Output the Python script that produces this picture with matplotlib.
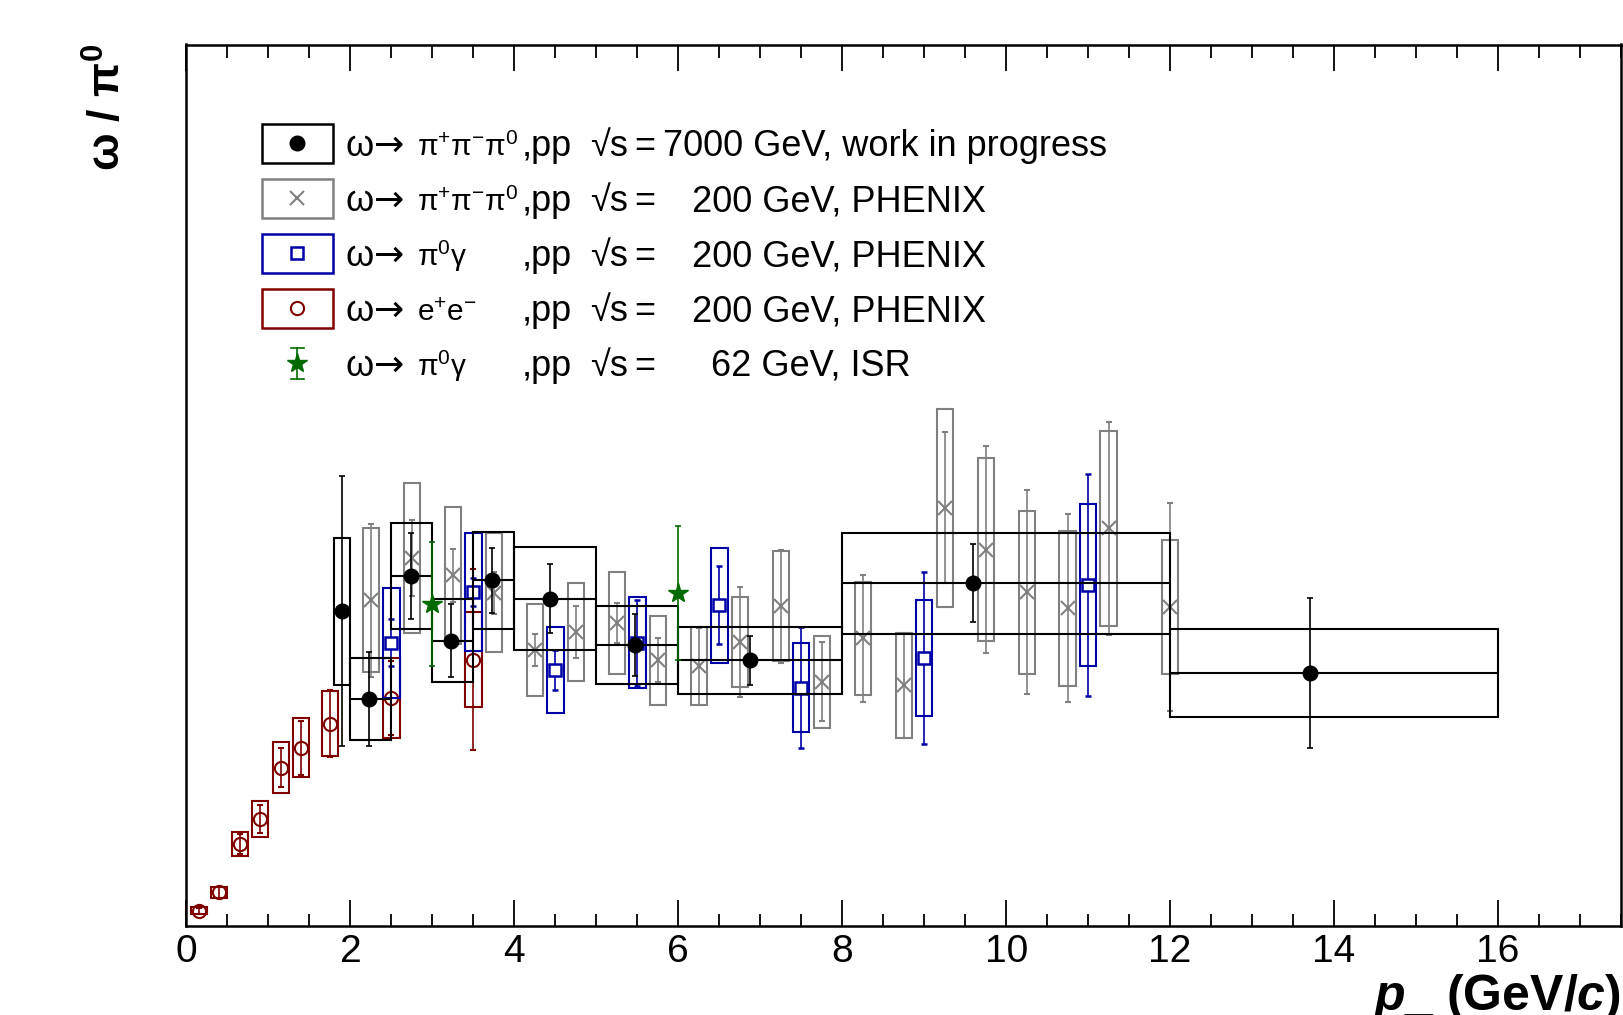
import numpy as np
import matplotlib
matplotlib.use("Agg")
import matplotlib.pyplot as plt
from matplotlib.patches import Rectangle
from matplotlib.lines import Line2D

plt.rcParams["font.family"] = ["Liberation Sans", "DejaVu Sans"]
plt.rcParams["mathtext.fontset"] = "custom"
plt.rcParams["mathtext.rm"] = "Liberation Sans"
plt.rcParams["mathtext.it"] = "Liberation Sans:italic"
plt.rcParams["mathtext.bf"] = "Liberation Sans:bold"
plt.rcParams["mathtext.bfit"] = "Liberation Sans:italic:bold"
plt.rcParams["mathtext.default"] = "regular"

# ALICE 7 TeV (bins with x-errors)
alice_lo = [1.8, 2.0, 2.5, 3.0, 3.5, 4.0, 5.0, 6.0, 8.0, 12.0]
alice_hi = [2.0, 2.5, 3.0, 3.5, 4.0, 5.0, 6.0, 8.0, 12.0, 16.0]
alice_x = [1.90, 2.23, 2.74, 3.23, 3.73, 4.43, 5.47, 6.87, 9.59, 13.71]
alice_y = [0.428, 0.309, 0.476, 0.388, 0.470, 0.445, 0.382, 0.361, 0.466, 0.344]
alice_stat = [0.184, 0.064, 0.058, 0.050, 0.044, 0.047, 0.042, 0.033, 0.053, 0.102]
alice_sys = [0.100, 0.056, 0.072, 0.057, 0.066, 0.070, 0.053, 0.046, 0.069, 0.060]

# PHENIX pi+pi-pi0
phx3_x = [2.25, 2.75, 3.25, 3.75, 4.25, 4.75, 5.25, 5.75, 6.25, 6.75,
          7.25, 7.75, 8.25, 8.75, 9.25, 9.75, 10.25, 10.75, 11.25, 12.0]
phx3_y = [0.443, 0.501, 0.477, 0.453, 0.375, 0.400, 0.412, 0.361, 0.353, 0.386,
          0.435, 0.332, 0.391, 0.327, 0.569, 0.512, 0.454, 0.432, 0.541, 0.434]
phx3_stat = [0.104, 0.052, 0.036, 0.029, 0.022, 0.035, 0.027, 0.030, 0.052, 0.075,
             0.077, 0.054, 0.087, 0.072, 0.103, 0.141, 0.139, 0.128, 0.145, 0.142]
phx3_sys = [0.098, 0.102, 0.093, 0.081, 0.063, 0.067, 0.069, 0.061, 0.053, 0.061,
            0.075, 0.063, 0.077, 0.071, 0.135, 0.125, 0.111, 0.106, 0.133, 0.091]

# PHENIX pi0 gamma
phxg_x = [2.5, 3.5, 4.5, 5.5, 6.5, 7.5, 9.0, 11.0]
phxg_y = [0.385, 0.454, 0.348, 0.385, 0.436, 0.324, 0.364, 0.464]
phxg_stat = [0.032, 0.019, 0.027, 0.059, 0.053, 0.082, 0.117, 0.151]
phxg_sys = [0.075, 0.080, 0.058, 0.062, 0.078, 0.061, 0.079, 0.110]

# PHENIX e+e-
phxe_x = [0.15, 0.4, 0.65, 0.9, 1.15, 1.4, 1.75, 2.5, 3.5]
phxe_y = [0.020, 0.045, 0.111, 0.145, 0.215, 0.242, 0.275, 0.310, 0.362]
phxe_stat = [0.004, 0.007, 0.013, 0.019, 0.027, 0.037, 0.046, 0.050, 0.123]
phxe_sys = [0.005, 0.008, 0.017, 0.024, 0.035, 0.040, 0.044, 0.055, 0.065]

# ISR 62 GeV
isr_x = [3.0, 6.0]
isr_y = [0.438, 0.453]
isr_stat = [0.085, 0.091]

BLACK = "black"
GRAY = "#808080"
BLUE = "#0000a8"
RED = "#800000"
GREEN = "#006a00"

legend_rows = [
    (r"$\pi^{+}\pi^{-}\pi^{0}$", "7000 GeV, work in progress", 663),
    (r"$\pi^{+}\pi^{-}\pi^{0}$", "200 GeV, PHENIX", 692),
    (r"$\pi^{0}\gamma$", "200 GeV, PHENIX", 692),
    (r"$e^{+}e^{-}$", "200 GeV, PHENIX", 692),
    (r"$\pi^{0}\gamma$", "62 GeV, ISR", 711),
]

W, H = 1624, 1015


def fx(px):
    return px / W


def fy(py):
    return 1 - py / H


def sys_boxes(ax, x, y, sys, color, lo=None, hi=None, hw=0.1, z=2):
    for i in range(len(x)):
        x0 = lo[i] if lo is not None else x[i] - hw
        x1 = hi[i] if hi is not None else x[i] + hw
        ax.add_patch(Rectangle((x0, y[i] - sys[i]), x1 - x0, 2 * sys[i],
                               fill=False, edgecolor=color, lw=1.5, zorder=z))


fig = plt.figure(figsize=(W / 100, H / 100), dpi=100)
ax = fig.add_axes([fx(186.5), fy(925.5), fx(1621) - fx(186.5), fy(44.5) - fy(925.5)])

ebkw = dict(capsize=2.2, elinewidth=1.2, capthick=1.2, linestyle="none")

sys_boxes(ax, phx3_x, phx3_y, phx3_sys, GRAY, z=2)
ax.errorbar(phx3_x, phx3_y, yerr=phx3_stat, fmt="x", color=GRAY, ms=10.5, mew=1.5,
            zorder=3, **ebkw)

sys_boxes(ax, phxe_x, phxe_y, phxe_sys, RED, z=2)
ax.errorbar(phxe_x, phxe_y, yerr=phxe_stat, fmt="o", color=RED, mfc="none",
            ms=9.5, mew=1.5, zorder=3, **ebkw)

sys_boxes(ax, phxg_x, phxg_y, phxg_sys, BLUE, z=4)
ax.errorbar(phxg_x, phxg_y, yerr=phxg_stat, fmt="s", color=BLUE, mfc="white",
            ms=8.5, mew=1.8, zorder=5, **ebkw)

sys_boxes(ax, alice_x, alice_y, alice_sys, BLACK, lo=alice_lo, hi=alice_hi, z=6)
ax.hlines(alice_y, alice_lo, alice_hi, color=BLACK, lw=1.5, zorder=6)
ax.errorbar(alice_x, alice_y, yerr=alice_stat, fmt="o", color=BLACK, ms=10.5,
            zorder=7, **ebkw)

ax.errorbar(isr_x, isr_y, yerr=isr_stat, fmt="*", color=GREEN, ms=15,
            zorder=8, **ebkw)

ax.set_xlim(0, 17.5)
ax.set_ylim(0, 1.2)
ax.set_xticks(np.arange(0, 17, 2))
ax.set_xticks(np.arange(0, 17.6, 0.5), minor=True)
ax.tick_params(axis="x", which="both", direction="in", top=True, bottom=True,
               width=1.3, labelsize=28, pad=6)
ax.tick_params(axis="x", which="major", length=19)
ax.tick_params(axis="x", which="minor", length=9)
ax.tick_params(axis="y", which="both", left=False, right=False, labelleft=False)
for s in ax.spines.values():
    s.set_linewidth(1.8)

# legend, drawn by hand in figure pixels
row_y = [143, 198, 253, 308, 362.5]
box_colors = [BLACK, GRAY, BLUE, RED]
box_markers = [dict(marker="o", color=BLACK, ms=10.5),
               dict(marker="x", color=GRAY, ms=10.5, mew=1.5),
               dict(marker="s", color=BLUE, mfc="white", ms=8.5, mew=1.8),
               dict(marker="o", color=RED, mfc="none", ms=9.5, mew=1.5)]
fs = 26
for i, (reac, energy, ex) in enumerate(legend_rows):
    cy = row_y[i]
    if i < 4:
        fig.add_artist(Rectangle((fx(262), fy(cy + 19.5)), fx(333) - fx(262),
                                 fy(cy - 19.5) - fy(cy + 19.5), fill=False,
                                 edgecolor=box_colors[i], lw=1.8,
                                 transform=fig.transFigure))
        fig.add_artist(Line2D([fx(297.5)], [fy(cy)], linestyle="none",
                              transform=fig.transFigure, **box_markers[i]))
    else:
        fig.add_artist(Line2D([fx(297.5)] * 2, [fy(cy - 15), fy(cy + 16)],
                              color=GREEN, lw=1.2, transform=fig.transFigure))
        for yy in (cy - 15, cy + 16):
            fig.add_artist(Line2D([fx(291), fx(304)], [fy(yy)] * 2, color=GREEN,
                                  lw=1.2, transform=fig.transFigure))
        fig.add_artist(Line2D([fx(297.5)], [fy(cy)], marker="*", color=GREEN,
                              ms=15, linestyle="none", transform=fig.transFigure))
    base = fy(cy + 13)
    fig.text(fx(346), base, "ω", fontsize=fs, va="baseline", ha="left")
    fig.text(fx(374), base, "→", fontsize=fs, va="baseline", ha="left",
             family="DejaVu Sans")
    fig.text(fx(417), base, reac, fontsize=21.5, va="baseline", ha="left")
    fig.text(fx(522), base, ",pp", fontsize=fs, va="baseline", ha="left")
    fig.text(fx(590), base, "√s", fontsize=fs, va="baseline", ha="left")
    fig.text(fx(634), base, "=", fontsize=fs, va="baseline", ha="left")
    fig.text(fx(ex), base, energy, fontsize=fs, va="baseline", ha="left")

fig.text(fx(121), fy(44), r"ω / π$^{0}$", fontsize=32, fontweight="bold",
         rotation=90, rotation_mode="anchor", ha="right", va="baseline")
fig.text(fx(1621), fy(1010), r"$\mathbfit{p}$_ (GeV/$\mathbfit{c}$)", fontsize=36,
         fontweight="bold", ha="right", va="baseline")

fig.savefig("out.png", dpi=100)
